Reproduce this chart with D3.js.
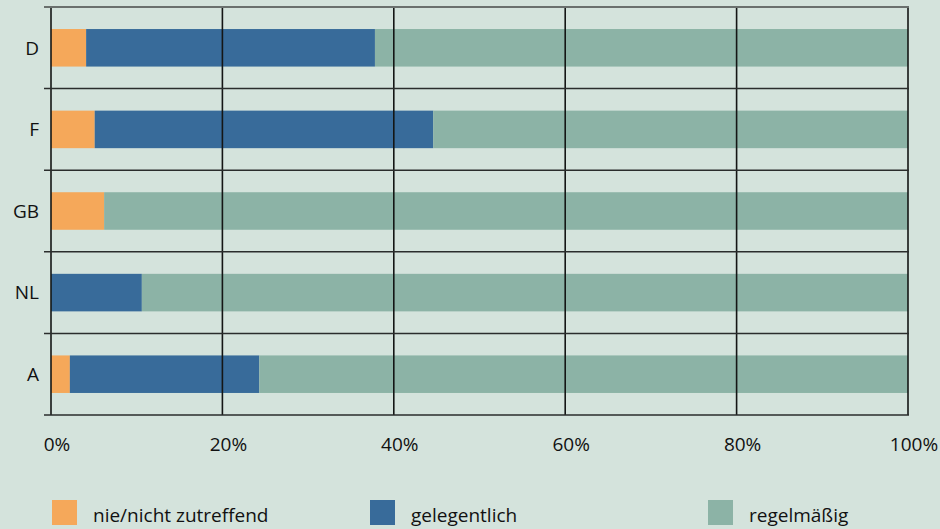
<!DOCTYPE html>
<html><head><meta charset="utf-8">
<script src="https://cdn.jsdelivr.net/npm/d3@7"></script>
<style>
html,body{margin:0;padding:0;background:#d4e3dc;}
svg{display:block;font-family:"Open Sans",sans-serif;}
</style></head>
<body><svg id="c" width="940" height="529"></svg>
<script>
const categories = ["D","F","GB","NL","A"];
const seriesNames = ["nie/nicht zutreffend","gelegentlich","regelmäßig"];
const nie = [4.1, 5.1, 6.2, 0, 2.2];
const gelegentlich = [33.7, 39.5, 0, 10.6, 22.1];
const regelmaessig = [62.2, 55.4, 93.8, 89.4, 75.7];
const tickValues = [0,20,40,60,80,100];
const tickLabels = ["0%","20%","40%","60%","80%","100%"];
const colors = ["#f5a85a","#386b9a","#8cb3a6"];

const rows = categories.map((c,i)=>({cat:c, nie:nie[i], gel:gelegentlich[i], reg:regelmaessig[i]}));
const keys = ["nie","gel","reg"];
const stack = d3.stack().keys(keys)(rows);

const svg = d3.select("#c");
const x = d3.scaleLinear().domain([0,100]).range([51,908]);
const y = d3.scaleBand().domain(categories).range([7,415]).paddingInner(0.54).paddingOuter(0.27);
const step = y.step();

// bars
svg.append("g").selectAll("g").data(stack).join("g").attr("fill",(d,i)=>colors[i])
  .selectAll("rect").data(d=>d).join("rect")
  .attr("x",d=>x(d[0])).attr("width",d=>x(d[1])-x(d[0]))
  .attr("y",d=>y(d.data.cat)).attr("height",y.bandwidth());

// vertical grid
svg.append("g").selectAll("line").data(tickValues).join("line")
  .attr("x1",d=>x(d)).attr("x2",d=>x(d)).attr("y1",7).attr("y2",415)
  .attr("stroke","#141615").attr("stroke-width",1.6);

// horizontal band boundaries
const bounds = d3.range(categories.length+1).map(i=> i===categories.length ? 415 : y(categories[i]) - (step - y.bandwidth())/2 );
svg.append("g").selectAll("line").data(bounds).join("line")
  .attr("x1",44).attr("x2",909).attr("y1",d=>d).attr("y2",d=>d)
  .attr("stroke",(d,i)=> i===0 ? "#6a706d" : "#2a2d2c").attr("stroke-width",(d,i)=> i===0?2:1.5);

// category labels
svg.append("g").selectAll("text").data(categories).join("text")
  .attr("x",39).attr("y",d=>y(d)+y.bandwidth()/2).attr("dy","0.36em")
  .attr("text-anchor","end").attr("font-size",19).attr("fill","#111").text(d=>d);

// x tick labels
svg.append("g").selectAll("text").data(tickValues).join("text")
  .attr("x",d=>x(d)+6).attr("y",451).attr("text-anchor","middle")
  .attr("font-size",19).attr("fill","#111").text((d,i)=>tickLabels[i]);

// legend
const legX = [52,370,708];
const lg = svg.append("g").selectAll("g").data(seriesNames).join("g")
  .attr("transform",(d,i)=>`translate(${legX[i]},500)`);
lg.append("rect").attr("width",25).attr("height",25).attr("fill",(d,i)=>colors[i]);
lg.append("text").attr("x",41).attr("y",22).attr("font-size",19).attr("fill","#111").text(d=>d);
</script></body></html>
